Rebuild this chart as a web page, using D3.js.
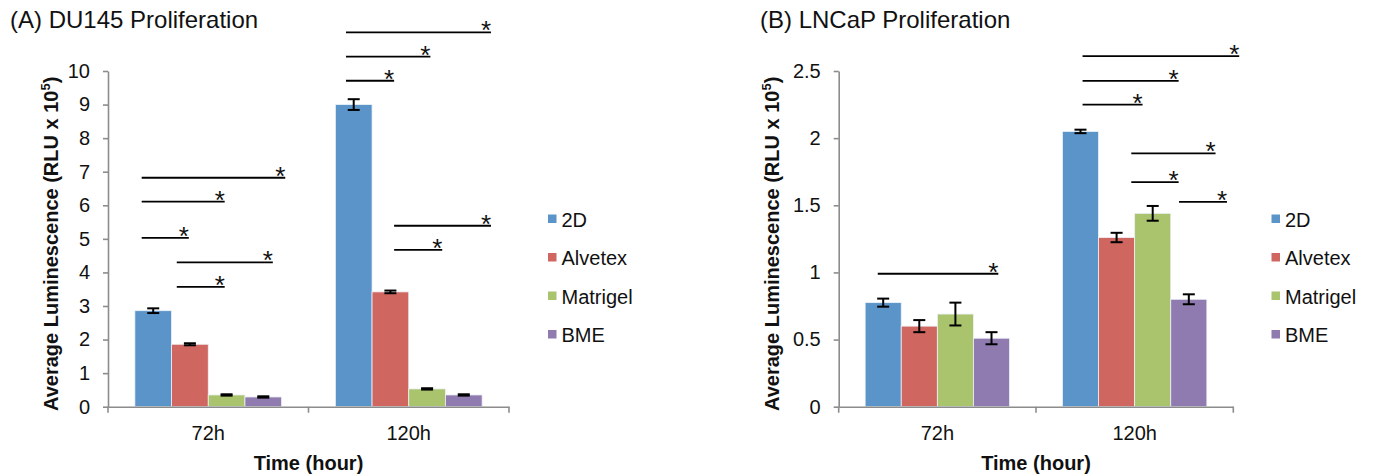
<!DOCTYPE html>
<html><head><meta charset="utf-8">
<script src="https://cdn.jsdelivr.net/npm/d3@7"></script>
<style>
html,body{margin:0;padding:0;background:#fff;}
svg{display:block;font-family:"Liberation Sans",Arial,sans-serif;}
</style></head>
<body>
<svg id="c" width="1374" height="475"></svg>
<script>
// ---------- data ----------
const categories = ["72h", "120h"];
const seriesNames = ["2D", "Alvetex", "Matrigel", "BME"];
const seriesColors = ["#5b94c9", "#cf6660", "#a9c46d", "#8f7bb0"];

// (A) DU145, values per series: [72h, 120h]
const du145_2D = [2.86, 9.00];
const du145_Alvetex = [1.86, 3.42];
const du145_Matrigel = [0.35, 0.53];
const du145_BME = [0.29, 0.35];
const du145_err_2D = [0.07, 0.16];
const du145_err_Alvetex = [0.03, 0.04];
const du145_err_Matrigel = [0.02, 0.02];
const du145_err_BME = [0.02, 0.02];
const du145Ticks = [0, 1, 2, 3, 4, 5, 6, 7, 8, 9, 10];
// significance bars: [category, start (fraction of band), end (fraction of band), y value]
const du145Sig = [
  ["72h", 0.168, 0.884, 6.82], ["72h", 0.168, 0.582, 6.11], ["72h", 0.168, 0.403, 5.03],
  ["72h", 0.343, 0.822, 4.30], ["72h", 0.343, 0.582, 3.57],
  ["120h", 0.187, 0.910, 11.15], ["120h", 0.187, 0.608, 10.43], ["120h", 0.187, 0.427, 9.71],
  ["120h", 0.427, 0.910, 5.39], ["120h", 0.427, 0.667, 4.67]
];

// (B) LNCaP
const lncap_2D = [0.775, 2.05];
const lncap_Alvetex = [0.60, 1.26];
const lncap_Matrigel = [0.69, 1.44];
const lncap_BME = [0.51, 0.80];
const lncap_err_2D = [0.03, 0.013];
const lncap_err_Alvetex = [0.045, 0.035];
const lncap_err_Matrigel = [0.085, 0.055];
const lncap_err_BME = [0.045, 0.037];
const lncapTicks = [0, 0.5, 1, 1.5, 2, 2.5];
const lncapSig = [
  ["72h", 0.198, 0.809, 0.99],
  ["120h", 0.236, 1.030, 2.611], ["120h", 0.236, 0.723, 2.427], ["120h", 0.236, 0.540, 2.249],
  ["120h", 0.483, 0.910, 1.887], ["120h", 0.483, 0.723, 1.673], ["120h", 0.725, 0.968, 1.526]
];

// ---------- drawing ----------
const svg = d3.select("#c");
const AXIS = "#8c8c8c";
const FONT = "'Liberation Sans',Arial,sans-serif";

function drawChart(cfg) {
  const g = svg.append("g");
  const x = d3.scaleBand().domain(categories).range([cfg.x0, cfg.x1]).paddingInner(0).paddingOuter(0);
  const bw = x.bandwidth();
  const pad = bw * 0.134;
  const xs = d3.scaleBand().domain(seriesNames).range([pad, bw - pad]).padding(0);
  const y = d3.scaleLinear().domain([0, cfg.ymax]).range([cfg.y0, cfg.y1]);

  // title
  g.append("text").attr("x", cfg.titleX).attr("y", 28).attr("font-size", 24).attr("fill", "#111")
    .text(cfg.title);

  // bars
  seriesNames.forEach((s, si) => {
    const vals = cfg.means[si];
    categories.forEach((c, ci) => {
      const bx = x(c) + xs(s);
      g.append("rect").attr("x", bx).attr("y", y(vals[ci]))
        .attr("width", xs.bandwidth()).attr("height", y(0) - y(vals[ci]))
        .attr("fill", seriesColors[si]).attr("stroke", "#eef2f7").attr("stroke-width", 0.8);
    });
  });
  // error bars
  seriesNames.forEach((s, si) => {
    const vals = cfg.means[si], errs = cfg.errs[si];
    categories.forEach((c, ci) => {
      const cx = x(c) + xs(s) + xs.bandwidth() / 2;
      const hi = y(vals[ci] + errs[ci]), lo = y(vals[ci] - errs[ci]);
      const eg = g.append("g").attr("stroke", "#000").attr("stroke-width", 2);
      eg.append("line").attr("x1", cx).attr("x2", cx).attr("y1", hi).attr("y2", lo);
      eg.append("line").attr("x1", cx - 6).attr("x2", cx + 6).attr("y1", hi).attr("y2", hi);
      eg.append("line").attr("x1", cx - 6).attr("x2", cx + 6).attr("y1", lo).attr("y2", lo);
    });
  });

  // y axis
  const ya = g.append("g").attr("transform", `translate(${cfg.x0},0)`)
    .call(d3.axisLeft(y).tickValues(cfg.ticks).tickSize(5).tickSizeOuter(0).tickPadding(13)
      .tickFormat(d3.format("")));
  ya.select(".domain").attr("stroke", AXIS).attr("stroke-width", 1.6);
  ya.selectAll(".tick line").attr("stroke", AXIS).attr("stroke-width", 1.6);
  ya.selectAll(".tick text").attr("font-size", 20).attr("fill", "#111").attr("font-family", FONT);

  // x axis
  const xa = g.append("g").attr("transform", `translate(0,${cfg.y0})`)
    .call(d3.axisBottom(x).tickSize(0).tickPadding(19));
  xa.select(".domain").attr("stroke", AXIS).attr("stroke-width", 1.6);
  xa.selectAll(".tick text").attr("font-size", 20).attr("fill", "#111").attr("font-family", FONT);
  const edges = [cfg.x0].concat(categories.map(c => x(c) + bw));
  edges.forEach(ex => {
    g.append("line").attr("x1", ex).attr("x2", ex).attr("y1", cfg.y0).attr("y2", cfg.y0 + 6)
      .attr("stroke", AXIS).attr("stroke-width", 1.6);
  });

  // axis titles
  g.append("text").attr("x", (cfg.x0 + cfg.x1) / 2).attr("y", 470).attr("text-anchor", "middle")
    .attr("font-size", 20).attr("font-weight", "bold").attr("fill", "#111").text("Time (hour)");
  const yt = g.append("text").attr("transform", `translate(${cfg.yTitleX},${(cfg.y0 + cfg.y1) / 2 + 5}) rotate(-90)`)
    .attr("text-anchor", "middle").attr("font-size", 20).attr("font-weight", "bold").attr("fill", "#111");
  yt.append("tspan").text("Average Luminescence (RLU x 10");
  yt.append("tspan").attr("font-size", 13).attr("dy", -8).text("5");
  yt.append("tspan").attr("dy", 8).text(")");

  // significance lines
  cfg.sig.forEach(([c, f0, f1, v]) => {
    const ly = y(v);
    const xa0 = x(c) + f0 * bw, xa1 = x(c) + f1 * bw;
    g.append("line").attr("x1", xa0).attr("x2", xa1).attr("y1", ly).attr("y2", ly)
      .attr("stroke", "#000").attr("stroke-width", 1.8);
    g.append("text").attr("x", xa1 - 5).attr("y", ly + 7).attr("text-anchor", "middle")
      .attr("font-size", 26).attr("fill", "#111").text("*");
  });

  // legend
  const lg = g.append("g");
  seriesNames.forEach((s, i) => {
    const ly = 219 + i * 38.5;
    lg.append("rect").attr("x", cfg.legX).attr("y", ly - 4.5).attr("width", 8.5).attr("height", 8.5)
      .attr("fill", seriesColors[i]);
    lg.append("text").attr("x", cfg.legX + 13.5).attr("y", ly + 7.5).attr("font-size", 20)
      .attr("fill", "#111").text(s);
  });
}

drawChart({
  title: "(A) DU145 Proliferation", titleX: 10,
  x0: 108, x1: 509, y0: 406.7, y1: 71, ymax: 10, ticks: du145Ticks,
  means: [du145_2D, du145_Alvetex, du145_Matrigel, du145_BME],
  errs: [du145_err_2D, du145_err_Alvetex, du145_err_Matrigel, du145_err_BME],
  sig: du145Sig, legX: 548, yTitleX: 58
});
drawChart({
  title: "(B) LNCaP Proliferation", titleX: 760,
  x0: 838.7, x1: 1233.3, y0: 406.7, y1: 71, ymax: 2.5, ticks: lncapTicks,
  means: [lncap_2D, lncap_Alvetex, lncap_Matrigel, lncap_BME],
  errs: [lncap_err_2D, lncap_err_Alvetex, lncap_err_Matrigel, lncap_err_BME],
  sig: lncapSig, legX: 1271.5, yTitleX: 779
});
</script>
</body></html>
